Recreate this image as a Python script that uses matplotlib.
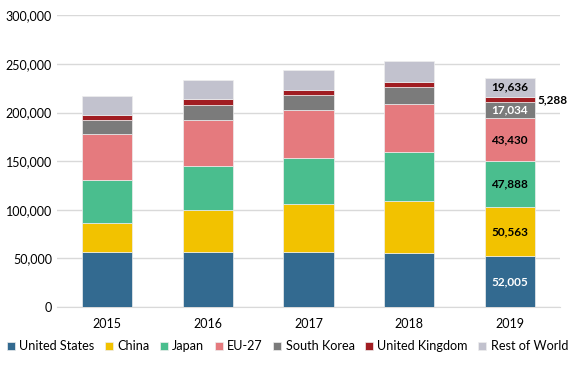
import numpy as np
import matplotlib
matplotlib.use("Agg")
import matplotlib.pyplot as plt
from matplotlib.ticker import FuncFormatter

years = ["2015", "2016", "2017", "2018", "2019"]

united_states = [56600, 56300, 56300, 55900, 52005]
china = [29600, 43100, 49200, 53300, 50563]
japan = [44300, 45700, 48000, 50000, 47888]
eu27 = [47400, 47500, 48800, 49200, 43430]
south_korea = [14100, 15100, 15500, 17500, 17034]
united_kingdom = [5400, 5800, 5500, 5500, 5288]
rest_of_world = [19300, 19600, 20200, 21600, 19636]

series = [
    ("United States", united_states, "#336a90", "white"),
    ("China", china, "#f2c200", "black"),
    ("Japan", japan, "#4abe8e", "black"),
    ("EU-27", eu27, "#e57a7e", "black"),
    ("South Korea", south_korea, "#7b7b7b", "white"),
    ("United Kingdom", united_kingdom, "#a11d22", "black"),
    ("Rest of World", rest_of_world, "#c2c2ce", "black"),
]

plt.rcParams["font.family"] = ["Lato", "DejaVu Sans"]

fig = plt.figure(figsize=(5.75, 3.65), dpi=100)
ax = fig.add_axes([0.099, 0.159, 0.875, 0.799])

x = np.arange(len(years))
bottom = np.zeros(len(years))
for name, vals, color, txt in series:
    vals = np.array(vals, dtype=float)
    ax.bar(x, vals, 0.5, bottom=bottom, color=color, label=name,
           edgecolor="#eeeeee", linewidth=0.5, zorder=3)
    # labels only on the last year
    v = vals[-1]
    if name == "United Kingdom":
        ax.text(x[-1] + 0.28, bottom[-1] + v / 2, f"{int(v):,}", ha="left",
                va="center", fontsize=8.5, fontweight="bold", color="black")
    else:
        ax.text(x[-1], bottom[-1] + v / 2, f"{int(v):,}", ha="center",
                va="center", fontsize=8.5, fontweight="bold", color=txt, zorder=4)
    bottom += vals

ax.set_xlim(-0.5, 4.5)
ax.set_ylim(0, 300000)
ax.set_yticks(np.arange(0, 300001, 50000))
ax.yaxis.set_major_formatter(FuncFormatter(lambda v, p: f"{int(v):,}"))
ax.set_xticks(x)
ax.set_xticklabels(years)
ax.grid(axis="y", color="#d9d9d9", linewidth=1, zorder=0)
for s in ["top", "right", "left"]:
    ax.spines[s].set_visible(False)
ax.spines["bottom"].set_color("#d9d9d9")
ax.tick_params(axis="both", length=0, labelsize=9, colors="black")
ax.tick_params(axis="x", pad=8)

fig.legend(loc="lower center", bbox_to_anchor=(0.5, 0.035), ncol=7,
           frameon=False, fontsize=9.1, handlelength=0.6, handleheight=0.6,
           columnspacing=0.85, handletextpad=0.35, borderaxespad=0,
           borderpad=0)

fig.savefig("out.png", dpi=100)
